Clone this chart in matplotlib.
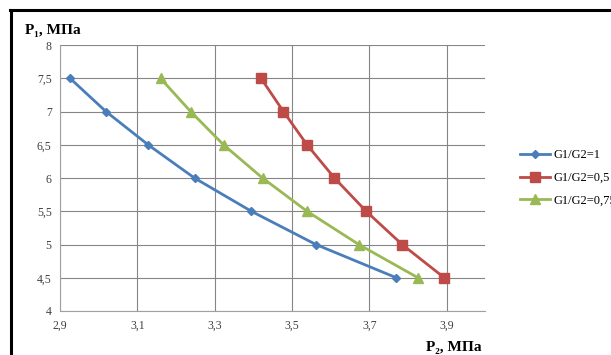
import matplotlib.pyplot as plt
from matplotlib.lines import Line2D

p1 = [7.5, 7.0, 6.5, 6.0, 5.5, 5.0, 4.5]
p2_ratio_1 = [2.926, 3.019, 3.128, 3.248, 3.395, 3.562, 3.770]
p2_ratio_05 = [3.420, 3.478, 3.539, 3.610, 3.692, 3.785, 3.894]
p2_ratio_075 = [3.160, 3.238, 3.323, 3.424, 3.539, 3.673, 3.826]

x_ticks = [2.9, 3.1, 3.3, 3.5, 3.7, 3.9]
y_ticks = [4, 4.5, 5, 5.5, 6, 6.5, 7, 7.5, 8]

serif = ["Liberation Serif", "DejaVu Serif"]


def comma(v):
    return f"{v:g}".replace(".", ",")


fig = plt.figure(figsize=(6.11, 3.55), dpi=100)
ax = fig.add_axes([0.0982, 0.124, 0.696, 0.749])

ax.plot(p2_ratio_1, p1, color="#4A7EBB", lw=2, marker="D", ms=4.5, label="G1/G2=1")
ax.plot(p2_ratio_05, p1, color="#BE4B48", lw=2, marker="s", ms=6.5, label="G1/G2=0,5")
ax.plot(p2_ratio_075, p1, color="#98B954", lw=2, marker="^", ms=6.5, label="G1/G2=0,75")

ax.set_xlim(2.9, 4.0)
ax.set_ylim(4, 8)
ax.set_xticks(x_ticks)
ax.set_yticks(y_ticks)
ax.set_xticklabels([comma(v) for v in x_ticks], family=serif, fontsize=8.5, color="#404040")
ax.set_yticklabels([comma(v) for v in y_ticks], family=serif, fontsize=8.5, color="#404040")
ax.tick_params(length=0, pad=6)
ax.grid(True, color="#858585", lw=0.8)
ax.set_axisbelow(True)
for side in ["top", "right"]:
    ax.spines[side].set_visible(False)
for side in ["left", "bottom"]:
    ax.spines[side].set_color("#a0a0a0")

fig.text(0.041, 0.905, "P₁, МПа", family=serif, fontsize=11, fontweight="bold")
fig.text(0.697, 0.012, "P₂, МПа", family=serif, fontsize=11, fontweight="bold")

leg = ax.legend(loc="center left", bbox_to_anchor=(1.055, 0.5), frameon=False,
                prop={"family": serif, "size": 9}, handlelength=2.4,
                handletextpad=0.3, labelspacing=0.85)

# outer frame: only top and left edges visible in the source
fig.add_artist(Line2D([0.0164, 1.0], [0.972, 0.972], color="black", lw=2.2,
                      transform=fig.transFigure))
fig.add_artist(Line2D([0.0180, 0.0180], [0.0, 0.972], color="black", lw=2.2,
                      transform=fig.transFigure))

fig.savefig("out.png", dpi=100)
